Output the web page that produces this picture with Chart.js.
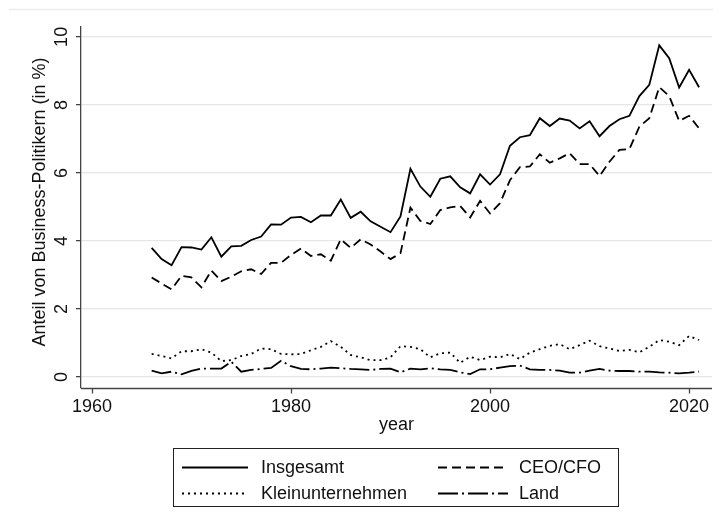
<!DOCTYPE html>
<html>
<head>
<meta charset="utf-8">
<script src="https://cdn.jsdelivr.net/npm/chart.js@4.4.1/dist/chart.umd.min.js"></script>
<style>
  body { margin: 0; background: #fff; font-family: "Liberation Sans", Arial, sans-serif; }
  #wrap { position: relative; width: 719px; height: 527px; }
  #legend { position: absolute; left: 173px; top: 448px; width: 444px; height: 57px;
            border: 1.3px solid #222; box-sizing: content-box; }
  .item { position: absolute; height: 20px; font-size: 18px; color: #111; line-height: 20px; white-space: nowrap; }
  .item svg { position: absolute; left: 0; top: 9px; }
  .item span { position: absolute; top: 0; }
</style>
</head>
<body>
<div id="wrap">
  <canvas id="chart" width="719" height="527"></canvas>
  <div id="legend"></div>
</div>
<script>
// data
const years = [1966, 1967, 1968, 1969, 1970, 1971, 1972, 1973, 1974, 1975,
  1976, 1977, 1978, 1979, 1980, 1981, 1982, 1983, 1984, 1985,
  1986, 1987, 1988, 1989, 1990, 1991, 1992, 1993, 1994, 1995,
  1996, 1997, 1998, 1999, 2000, 2001, 2002, 2003, 2004, 2005,
  2006, 2007, 2008, 2009, 2010, 2011, 2012, 2013, 2014, 2015,
  2016, 2017, 2018, 2019, 2020, 2021];

const insgesamt = [3.80, 3.47, 3.29, 3.82, 3.81, 3.75, 4.11, 3.54, 3.84, 3.86,
  4.03, 4.13, 4.49, 4.48, 4.69, 4.71, 4.55, 4.75, 4.75, 5.22,
  4.68, 4.86, 4.58, 4.42, 4.26, 4.72, 6.12, 5.60, 5.30, 5.83,
  5.90, 5.58, 5.40, 5.96, 5.66, 5.96, 6.80, 7.05, 7.11, 7.61,
  7.38, 7.60, 7.54, 7.31, 7.52, 7.08, 7.38, 7.58, 7.68, 8.26,
  8.59, 9.75, 9.37, 8.51, 9.03, 8.52];

const ceoCfo = [2.93, 2.75, 2.58, 2.98, 2.93, 2.64, 3.13, 2.82, 2.95, 3.11,
  3.17, 3.03, 3.36, 3.36, 3.59, 3.78, 3.56, 3.61, 3.42, 4.05,
  3.80, 4.05, 3.90, 3.69, 3.47, 3.64, 4.98, 4.59, 4.50, 4.91,
  4.99, 5.03, 4.69, 5.18, 4.81, 5.11, 5.79, 6.17, 6.19, 6.55,
  6.30, 6.43, 6.58, 6.26, 6.26, 5.91, 6.33, 6.68, 6.70, 7.36,
  7.61, 8.52, 8.26, 7.53, 7.68, 7.31];

const kleinunternehmen = [0.68, 0.62, 0.55, 0.76, 0.76, 0.82, 0.72, 0.47, 0.50, 0.62,
  0.68, 0.84, 0.82, 0.68, 0.67, 0.68, 0.79, 0.89, 1.06, 0.89,
  0.65, 0.58, 0.50, 0.50, 0.58, 0.91, 0.89, 0.82, 0.58, 0.70,
  0.72, 0.42, 0.60, 0.50, 0.60, 0.58, 0.68, 0.53, 0.72, 0.82,
  0.92, 0.97, 0.82, 0.94, 1.07, 0.91, 0.84, 0.77, 0.80, 0.73,
  0.89, 1.09, 1.04, 0.94, 1.21, 1.09];

const land = [0.19, 0.11, 0.16, 0.08, 0.18, 0.25, 0.25, 0.25, 0.45, 0.16,
  0.21, 0.24, 0.27, 0.48, 0.32, 0.24, 0.23, 0.25, 0.28, 0.26,
  0.24, 0.23, 0.21, 0.24, 0.25, 0.14, 0.25, 0.23, 0.26, 0.23,
  0.21, 0.14, 0.09, 0.23, 0.23, 0.28, 0.32, 0.34, 0.23, 0.21,
  0.21, 0.19, 0.13, 0.13, 0.19, 0.24, 0.19, 0.18, 0.18, 0.16,
  0.16, 0.14, 0.13, 0.11, 0.13, 0.16];

const xTicks = [1960, 1980, 2000, 2020];
const yTicks = [0, 2, 4, 6, 8, 10];
const seriesNames = ['Insgesamt', 'CEO/CFO', 'Kleinunternehmen', 'Land'];
const yTitle = 'Anteil von Business-Politikern (in %)';
const xTitle = 'year';

const FONT = '"Liberation Sans", Arial, sans-serif';
const AXIS = '#444';
const dashes = [[], [9, 5], [2, 4], [20, 4, 2, 4]];
const seriesValues = [insgesamt, ceoCfo, kleinunternehmen, land];

function points(vals) {
  return years.map((yr, i) => ({ x: yr, y: vals[i] }));
}

// rotated y tick labels, y title, x axis line + tick marks, thin frame line at the top
const extras = {
  id: 'extras',
  afterDraw(chart) {
    const ctx = chart.ctx;
    const x = chart.scales.x;
    const y = chart.scales.y;
    const area = chart.chartArea;
    ctx.save();
    ctx.strokeStyle = '#ececec';
    ctx.lineWidth = 1.3;
    ctx.beginPath();
    ctx.moveTo(9, 9.5);
    ctx.lineTo(713, 9.5);
    ctx.stroke();

    ctx.strokeStyle = AXIS;
    ctx.beginPath();
    ctx.moveTo(area.left, Math.round(area.bottom) + 0.5);
    ctx.lineTo(area.right, Math.round(area.bottom) + 0.5);
    xTicks.forEach(v => {
      const px = Math.round(x.getPixelForValue(v)) + 0.5;
      ctx.moveTo(px, area.bottom);
      ctx.lineTo(px, area.bottom + 5.5);
    });
    ctx.stroke();

    ctx.fillStyle = '#111';
    ctx.font = '18px ' + FONT;
    ctx.textAlign = 'center';
    ctx.textBaseline = 'alphabetic';
    yTicks.forEach(v => {
      ctx.save();
      ctx.translate(67, y.getPixelForValue(v));
      ctx.rotate(-Math.PI / 2);
      ctx.fillText(String(v), 0, 0);
      ctx.restore();
    });
    ctx.save();
    ctx.translate(45, 202);
    ctx.rotate(-Math.PI / 2);
    ctx.fillText(yTitle, 0, 0);
    ctx.restore();
    ctx.restore();
  }
};

new Chart(document.getElementById('chart'), {
  type: 'line',
  data: {
    datasets: seriesNames.map((name, i) => ({
      label: name,
      data: points(seriesValues[i]),
      borderColor: '#000',
      borderWidth: 1.8,
      borderDash: dashes[i],
      pointRadius: 0,
      tension: 0,
      fill: false
    }))
  },
  options: {
    responsive: false,
    animation: false,
    layout: { padding: { left: 0, right: 7, top: 27, bottom: 91 } },
    plugins: { legend: { display: false }, tooltip: { enabled: false } },
    scales: {
      x: {
        type: 'linear',
        min: 1958.9,
        max: 2022.3,
        afterBuildTicks: s => { s.ticks = xTicks.map(v => ({ value: v })); },
        afterFit: s => { s.height = 48; },
        grid: { display: false },
        border: { display: false },
        ticks: { color: '#111', font: { family: FONT, size: 18 }, padding: 0, maxRotation: 0, autoSkip: false,
                 callback: v => String(v) },
        title: { display: true, text: xTitle, color: '#111', font: { family: FONT, size: 18 }, padding: 0 }
      },
      y: {
        min: -0.32,
        max: 10.29,
        afterBuildTicks: s => { s.ticks = yTicks.map(v => ({ value: v })); },
        afterFit: s => { s.width = 81; },
        grid: { color: '#e6e6e6', lineWidth: 1.3, tickLength: 5, tickColor: AXIS, tickWidth: 1.3 },
        border: { color: AXIS, width: 1.3 },
        ticks: { display: false }
      }
    }
  },
  plugins: [extras]
});

// legend box built from the same names and dash patterns
const legendPos = [
  { left: 8, top: 8, text: 87 },
  { left: 264, top: 8, text: 345 },
  { left: 8, top: 34, text: 87 },
  { left: 264, top: 34, text: 345 }
];
const legend = document.getElementById('legend');
seriesNames.forEach((name, i) => {
  const p = legendPos[i];
  const len = i === 0 || i === 2 ? 66 : 70;
  const div = document.createElement('div');
  div.className = 'item';
  div.style.left = p.left + 'px';
  div.style.top = p.top + 'px';
  div.innerHTML =
    `<svg width="${len}" height="3"><line x1="0" y1="1.5" x2="${len}" y2="1.5" stroke="#000" stroke-width="1.8" stroke-dasharray="${dashes[i].join(',') || 'none'}"/></svg>` +
    `<span style="left:${p.text - p.left}px">${name}</span>`;
  legend.appendChild(div);
});
</script>
</body>
</html>
